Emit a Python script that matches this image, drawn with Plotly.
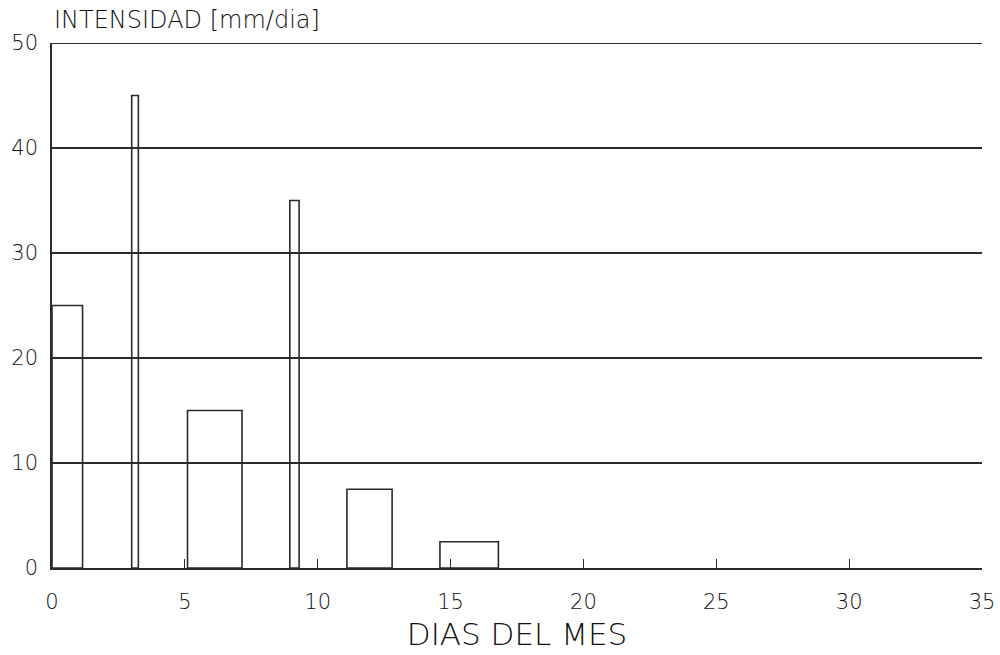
import plotly.graph_objects as go

# Precipitation intensity per rain event: start day, end day, intensity [mm/dia]
inicio = [0.0, 3.0, 5.1, 8.95, 11.1, 14.6]
fin = [1.15, 3.25, 7.15, 9.3, 12.8, 16.8]
intensidad = [25, 45, 15, 35, 7.5, 2.5]

x_ticks = [0, 5, 10, 15, 20, 25, 30, 35]
y_ticks = [0, 10, 20, 30, 40, 50]
y_max = 50

ink = "#2a2a2a"
text_ink = "#111111"
font_family = "DejaVu Sans, Liberation Sans, sans-serif"

centros = [(a + b) / 2 for a, b in zip(inicio, fin)]
anchos = [b - a for a, b in zip(inicio, fin)]

fig = go.Figure(
    go.Bar(
        x=centros,
        y=intensidad,
        width=anchos,
        marker=dict(color="rgba(0,0,0,0)", line=dict(color=ink, width=1.6)),
        hoverinfo="skip",
    )
)

fig.update_layout(
    width=1000,
    height=655,
    margin=dict(l=52, r=18, t=43, b=87),
    paper_bgcolor="white",
    plot_bgcolor="white",
    showlegend=False,
    font=dict(family=font_family, color=text_ink, size=21, weight=300),
    xaxis=dict(
        range=[0, 35],
        tickvals=x_ticks,
        ticks="inside",
        ticklen=9,
        tickwidth=1.3,
        tickcolor=ink,
        showgrid=False,
        zeroline=False,
        showline=True,
        linecolor=ink,
        linewidth=1.6,
        automargin=False,
        ticklabelstandoff=14,
        tickfont=dict(size=21),
        title=dict(text="DIAS DEL MES", font=dict(size=31), standoff=10),
    ),
    yaxis=dict(
        range=[0, y_max],
        tickvals=y_ticks,
        ticks="",
        showgrid=True,
        gridcolor=ink,
        gridwidth=1.6,
        zeroline=False,
        showline=True,
        linecolor=ink,
        linewidth=1.6,
        automargin=False,
        ticklabelstandoff=8,
        tickfont=dict(size=21),
    ),
    # top grid line at the upper end of the y range
    shapes=[
        dict(
            type="line",
            xref="paper",
            yref="y",
            x0=0,
            x1=1,
            y0=y_max,
            y1=y_max,
            line=dict(color=ink, width=1.8),
        )
    ],
    annotations=[
        dict(
            text="INTENSIDAD [mm/dia]",
            xref="paper",
            yref="paper",
            x=0,
            y=1,
            xanchor="left",
            yanchor="bottom",
            yshift=7,
            showarrow=False,
            font=dict(size=24, color=text_ink),
        )
    ],
)

fig.write_html("out.html")
